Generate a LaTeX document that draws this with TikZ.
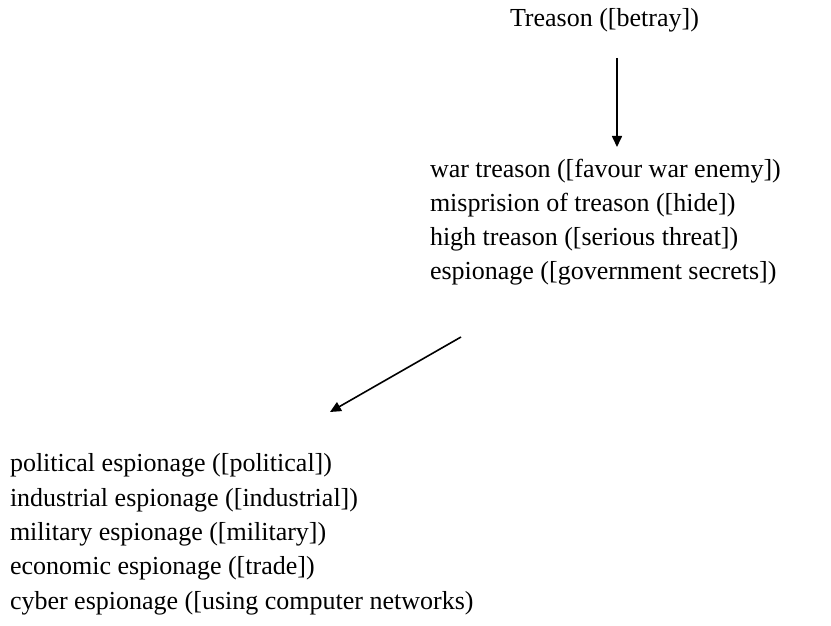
\documentclass[tikz,border=0pt]{standalone}
\usepackage{fontspec}
\setmainfont{Liberation Serif}
\usetikzlibrary{arrows.meta}
\begin{document}
\begin{tikzpicture}[x=1pt,y=-1pt,
  txt/.style={inner sep=0pt,outer sep=0pt,align=left,anchor=base west,font=\fontsize{26}{34.3}\selectfont},
  arr/.style={-{Triangle[length=11pt,width=10pt]},line width=1.6pt}]
\useasboundingbox (0,0) rectangle (831,626);
\node[txt] (t) at (510,27) {Treason ([betray])};
\node[txt] (b) at (430,279.9) {war treason ([favour war enemy])\\misprision of treason ([hide])\\high treason ([serious threat])\\espionage ([government secrets])};
\node[txt] (c) at (10,609) {political espionage ([political])\\industrial espionage ([industrial])\\military espionage ([military])\\economic espionage ([trade])\\cyber espionage ([using computer networks)};
\coordinate (a1s) at (617,58);
\coordinate (a1e) at (617,147);
\coordinate (a2s) at (461,337);
\coordinate (a2e) at (330,412);
\draw[arr] (a1s) -- (a1e);
\draw[arr] (a2s) -- (a2e);
\end{tikzpicture}
\end{document}
